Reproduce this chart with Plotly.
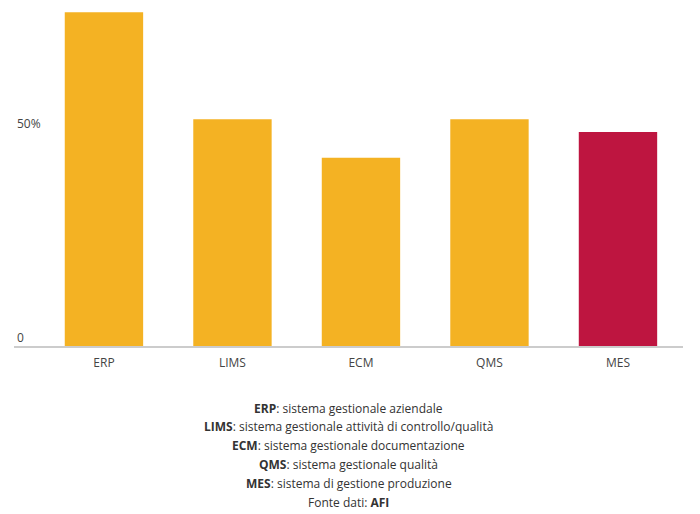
import plotly.graph_objects as go

categories = ["ERP", "LIMS", "ECM", "QMS", "MES"]
values = [78, 53, 44, 53, 50]
bar_colors = ["#F4B223", "#F4B223", "#F4B223", "#F4B223", "#BE1540"]
tick_vals = [0, 50]
tick_text = ["0", "50%"]

notes_bold = ["ERP", "LIMS", "ECM", "QMS", "MES"]
notes_text = [
    ": sistema gestionale aziendale",
    ": sistema gestionale attività di controllo/qualità",
    ": sistema gestionale documentazione",
    ": sistema gestionale qualità",
    ": sistema di gestione produzione",
]
source_label = "Fonte dati: "
source_name = "AFI"

FONT = "Open Sans, Noto Sans, sans-serif"
TXT = "#444444"

# page body has an 8px margin, so the figure is 8px smaller in each direction
W, H = 692, 506
L, R, T, B = 6, 17, 2, 168
plot_h = H - T - B

fig = go.Figure(
    go.Bar(
        x=categories,
        y=values,
        marker=dict(color=bar_colors, line=dict(width=0)),
        hoverinfo="x+y",
    )
)

fig.update_layout(
    width=W,
    height=H,
    margin=dict(l=L, r=R, t=T, b=B),
    paper_bgcolor="white",
    plot_bgcolor="white",
    bargap=0.39,
    showlegend=False,
    font=dict(family=FONT, size=12, color=TXT),
    xaxis=dict(
        range=[-0.7, 4.506],
        showgrid=False,
        showline=True,
        linecolor="#CCCCCC",
        linewidth=2,
        ticks="",
        ticklabelstandoff=5,
        tickfont=dict(size=12, color=TXT),
        fixedrange=True,
    ),
    yaxis=dict(
        range=[0, 78.5],
        tickvals=tick_vals,
        ticktext=tick_text,
        ticklabelposition="inside top",
        showgrid=False,
        zeroline=False,
        showline=False,
        ticks="",
        tickfont=dict(size=12, color=TXT),
        fixedrange=True,
    ),
)

lines = [f"<b>{b}</b>{t}" for b, t in zip(notes_bold, notes_text)]
lines.append(f"{source_label}<b>{source_name}</b>")

first_offset = 62 / plot_h
step = 18.8 / plot_h
for i, line in enumerate(lines):
    fig.add_annotation(
        text=line,
        xref="paper",
        yref="paper",
        x=0.5,
        y=-first_offset - i * step,
        xanchor="center",
        yanchor="middle",
        showarrow=False,
        font=dict(size=12, color="#333333", family=FONT),
    )

fig.write_html("out.html")
